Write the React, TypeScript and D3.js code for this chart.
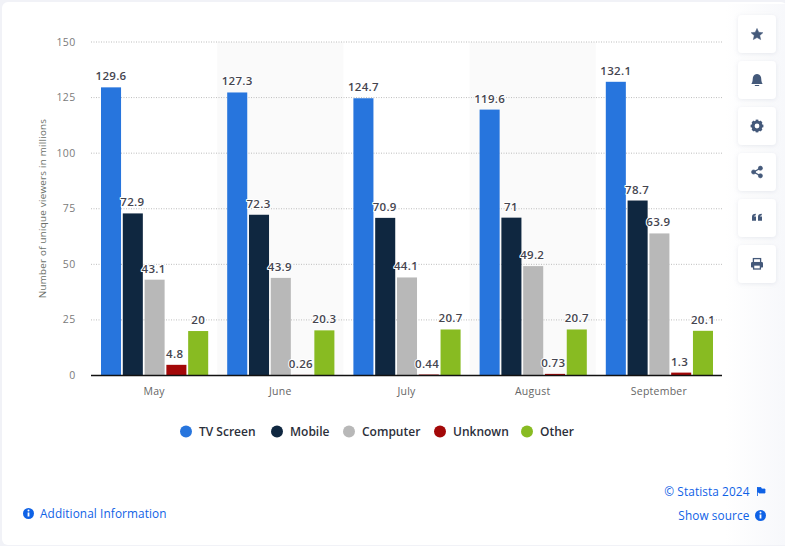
import * as d3 from "d3";
import React from "react";

const months = ["May", "June", "July", "August", "September"];
const seriesNames = ["TV Screen", "Mobile", "Computer", "Unknown", "Other"];
const seriesColors = ["#2775dd", "#0f2740", "#b8b8b8", "#a30808", "#88bb22"];
const tvScreen = [129.6, 127.3, 124.7, 119.6, 132.1];
const mobile = [72.9, 72.3, 70.9, 71, 78.7];
const computer = [43.1, 43.9, 44.1, 49.2, 63.9];
const unknown = [4.8, 0.26, 0.44, 0.73, 1.3];
const other = [20, 20.3, 20.7, 20.7, 20.1];
const allSeries = [tvScreen, mobile, computer, unknown, other];
const yTicks = [0, 25, 50, 75, 100, 125, 150];

const FONT = "'Open Sans', 'Noto Sans', sans-serif";
const legendX = [186, 277, 349, 440, 527];
const labelShift = [0, -0.5, -1, -1.7, 0];
const buttonY = [15, 61, 107, 153, 199, 245];

const ICON = "#44597a";

// five pointed star, fatter than d3.symbolStar
const starPath = d3
  .lineRadial<number>()
  .angle((i) => (i * Math.PI) / 5)
  .radius((i) => (i % 2 === 0 ? 6.2 : 2.9))
  .curve(d3.curveLinearClosed)(d3.range(10)) as string;

const icons = [
  <path key="star" d={starPath} transform="translate(0,0.6)" fill={ICON} stroke={ICON} strokeWidth={0.5} strokeLinejoin="round" />,
  <g key="bell" fill={ICON} transform="scale(1.12)">
    <path d="M-5,3.5 C-3.6,2 -4,-1 -3.6,-2.4 C-3,-4.6 -1.4,-5.4 0,-5.4 C1.4,-5.4 3,-4.6 3.6,-2.4 C4,-1 3.6,2 5,3.5 Z" />
    <rect x={-2} y={4.4} width={4} height={1} rx={0.5} />
  </g>,
  <g key="gear">
    <circle r={4} fill="none" stroke={ICON} strokeWidth={3.2} />
    {d3.range(8).map((i) => (
      <rect key={i} x={-1.3} y={-6.4} width={2.6} height={2.2} fill={ICON} transform={`rotate(${i * 45})`} />
    ))}
  </g>,
  <g key="share" fill={ICON} stroke={ICON}>
    <path d="M3.4,-3.8 L-3.4,0 L3.4,3.8" fill="none" strokeWidth={1.3} />
    <circle cx={3.4} cy={-3.8} r={2.1} strokeWidth={0.6} />
    <circle cx={-3.4} cy={0} r={2.1} strokeWidth={0.6} />
    <circle cx={3.4} cy={3.8} r={2.1} strokeWidth={0.6} />
  </g>,
  <g key="quote" fill={ICON} transform="translate(0,-0.8)">
    <path d="M-5,3.5 V-0.5 C-5,-2.4 -3.8,-3.4 -1.2,-3.5 V-2 C-2.4,-1.9 -2.8,-1.4 -2.8,-0.6 H-1 V3.5 Z" />
    <path d="M1,3.5 V-0.5 C1,-2.4 2.2,-3.4 4.8,-3.5 V-2 C3.6,-1.9 3.2,-1.4 3.2,-0.6 H5 V3.5 Z" />
  </g>,
  <g key="print">
    <rect x={-3.6} y={-5.4} width={7.2} height={4} fill="none" stroke={ICON} strokeWidth={1.3} />
    <rect x={-6} y={-2} width={12} height={5.6} rx={1.2} fill={ICON} />
    <rect x={-3.4} y={1} width={6.8} height={4} fill="#fff" stroke={ICON} strokeWidth={1.3} />
  </g>,
];

const InfoIcon = ({ x, y }: { x: number; y: number }) => (
  <g transform={`translate(${x},${y})`}>
    <circle r={5.5} fill="#0f62e6" />
    <rect x={-0.9} y={-1} width={1.8} height={4} fill="#fff" />
    <circle cy={-3} r={1} fill="#fff" />
  </g>
);

export default function App() {
  const width = 785;
  const height = 546;

  const x = d3.scaleBand<string>().domain(months).range([91, 722]);
  const inner = d3
    .scaleBand<string>()
    .domain(seriesNames)
    .range([10, x.bandwidth() - 9])
    .paddingInner(0.08);
  const y = d3.scaleLinear().domain([0, 150]).range([375.5, 42]);

  return (
    <svg
      width={width}
      height={height}
      style={{ position: "absolute", left: 0, top: 0, fontFamily: FONT }}
    >
      <defs>
        <linearGradient id="edge" x1="0" x2="1" y1="0" y2="0">
          <stop offset="0" stopColor="#ffffff" />
          <stop offset="1" stopColor="#f7f8fb" />
        </linearGradient>
        <filter id="btn" x="-30%" y="-30%" width="160%" height="160%">
          <feDropShadow dx="0" dy="1" stdDeviation="2" floodColor="#8a95ad" floodOpacity="0.18" />
        </filter>
      </defs>

      <rect width={width} height={height} fill="#f1f2f7" />
      <rect x={2} y={2} width={width} height={543} rx={6} fill="#fff" />
      <rect x={725} y={4} width={60} height={541} fill="url(#edge)" />

      {/* alternating month bands */}
      {months.map((m, i) =>
        i % 2 === 1 ? (
          <rect key={m} x={x(m)} y={y(150)} width={x.bandwidth()} height={y(0) - y(150)} fill="#fafafa" />
        ) : null
      )}

      {/* grid + y axis */}
      {yTicks.map((t) => (
        <g key={t}>
          {t > 0 && (
            <line x1={91} x2={722} y1={y(t)} y2={y(t)} stroke="#bdbdbd" strokeWidth={1} strokeDasharray="1 1.5" />
          )}
          <text x={75.5} y={y(t) + 3.5} textAnchor="end" fontSize={10.5} fill="#7b7b7b" letterSpacing={0.35}>
            {t}
          </text>
        </g>
      ))}
      <text
        transform={`translate(46,${208.5}) rotate(-90)`}
        textAnchor="middle"
        fontSize={9.8}
        fill="#6a6f68"
        letterSpacing={0.25}
      >
        Number of unique viewers in millions
      </text>

      {/* bars */}
      {seriesNames.map((name, s) =>
        months.map((m, i) => {
          const v = allSeries[s][i];
          return (
            <rect
              key={name + m}
              x={(x(m) as number) + (inner(name) as number)}
              y={y(v)}
              width={inner.bandwidth()}
              height={y(0) - y(v)}
              fill={seriesColors[s]}
            />
          );
        })
      )}

      <line x1={91} x2={722} y1={y(0)} y2={y(0)} stroke="#111" strokeWidth={1.3} />

      {/* value labels */}
      {seriesNames.map((name, s) =>
        months.map((m, i) => {
          const v = allSeries[s][i];
          return (
            <text
              key={name + m}
              x={(x(m) as number) + (inner(name) as number) + inner.bandwidth() / 2 + labelShift[s]}
              y={y(v) - 7}
              textAnchor="middle"
              fontSize={11.5}
              fontWeight={600}
              letterSpacing={0.3}
              fill="#45454f"
              stroke="#fff"
              strokeWidth={2}
              strokeLinejoin="round"
              paintOrder="stroke"
            >
              {v}
            </text>
          );
        })
      )}

      {/* month labels */}
      {months.map((m) => (
        <text
          key={m}
          x={(x(m) as number) + x.bandwidth() / 2}
          y={395}
          textAnchor="middle"
          fontSize={10.5}
          fill="#666"
          letterSpacing={0.25}
        >
          {m}
        </text>
      ))}

      {/* legend */}
      {seriesNames.map((name, s) => (
        <g key={name}>
          <circle cx={legendX[s]} cy={431.5} r={6} fill={seriesColors[s]} />
          <text x={legendX[s] + 13} y={436} fontSize={12} fontWeight={600} fill="#2c2f3a">
            {name}
          </text>
        </g>
      ))}

      {/* footer links */}
      <InfoIcon x={28.5} y={513.5} />
      <text x={40} y={518} fontSize={11.8} fill="#0f62e6" letterSpacing={0.1}>
        Additional Information
      </text>
      <text x={749.5} y={496} textAnchor="end" fontSize={11.8} fill="#0f62e6" letterSpacing={0.1}>
        © Statista 2024
      </text>
      <path d="M757.5,487 V496 M757.5,487.5 H761 L761.5,489 H765 V493 H759 L758.5,492 H757.5 Z" fill="#0f62e6" stroke="#0f62e6" strokeWidth={0.8} />
      <text x={749.5} y={520} textAnchor="end" fontSize={11.8} fill="#0f62e6" letterSpacing={0.1}>
        Show source
      </text>
      <InfoIcon x={760.5} y={515.5} />

      {/* side buttons */}
      {buttonY.map((by, i) => (
        <g key={by}>
          <rect x={738} y={by} width={38} height={38} rx={4} fill="#fff" filter="url(#btn)" />
          <g transform={`translate(757,${by + 19})`}>{icons[i]}</g>
        </g>
      ))}
    </svg>
  );
}
